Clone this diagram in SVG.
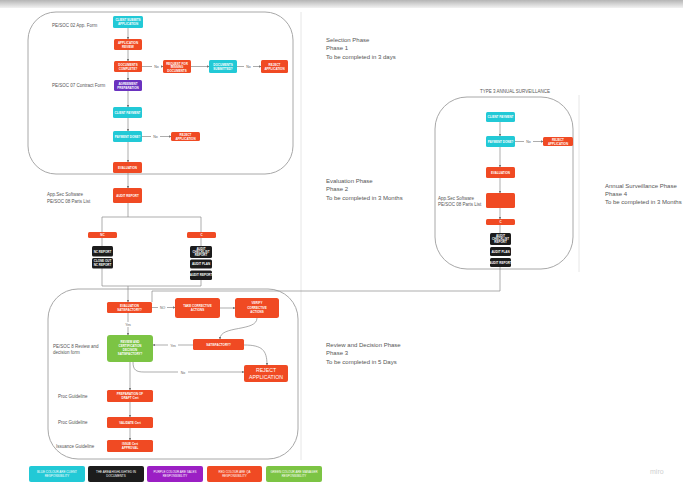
<svg xmlns="http://www.w3.org/2000/svg" width="683" height="483" viewBox="0 0 683 483">
<defs>
<linearGradient id="topbar" x1="0" y1="0" x2="0" y2="1">
<stop offset="0" stop-color="#b5b5b5"/><stop offset="1" stop-color="#f2f2f2"/>
</linearGradient>
<marker id="ah" viewBox="0 0 6 6" refX="5" refY="3" markerWidth="4" markerHeight="4" orient="auto"><path d="M0,0 L6,3 L0,6 z" fill="#777"/></marker>
<style>
.frame{fill:none;stroke:#a8a8a8;stroke-width:1}
.guide{stroke:#e6e6e6;stroke-width:1}
.c{fill:none;stroke:#8a8a8a;stroke-width:0.7;marker-end:url(#ah)}
.cn{fill:none;stroke:#8a8a8a;stroke-width:0.7}
.cy{fill:#22c9d6}
.rd{fill:#f04a23}
.pu{fill:#6a32bf}
.bk{fill:#1c1c1c}
.gr{fill:#7cc444}
.nt{font-family:"Liberation Sans",Arial,sans-serif;font-size:3px;font-weight:bold;fill:#fff;text-anchor:middle}
.lt{font-family:"Liberation Sans",Arial,sans-serif;font-size:4.5px;fill:#555}
.ph{font-family:"Liberation Sans",Arial,sans-serif;font-size:6px;fill:#555}
.el{font-family:"Liberation Sans",Arial,sans-serif;font-size:3.5px;fill:#666;text-anchor:middle}
.lg{font-family:"Liberation Sans",Arial,sans-serif;font-size:3px;fill:#fff;text-anchor:middle}
</style>
</defs>
<rect width="683" height="483" fill="#ffffff"/>
<rect x="0" y="0" width="683" height="8" fill="url(#topbar)"/>
<line class="guide" x1="301" y1="12" x2="301" y2="460"/>
<line class="guide" x1="579" y1="95" x2="579" y2="272"/>

<!-- phase frames -->
<g id="frame-phase1"><rect class="frame" x="28" y="12" width="265" height="162" rx="28"/></g>
<g id="frame-phase3"><rect class="frame" x="48" y="289" width="250" height="170" rx="30"/></g>
<g id="frame-type3"><rect class="frame" x="435" y="97" width="138" height="172" rx="32"/></g>

<!-- connectors -->
<g id="connectors">
<path class="c" d="M128,28 V39"/>
<path class="c" d="M128,50 V61"/>
<path class="c" d="M141,66.5 H163"/>
<path class="c" d="M191,66.5 H209"/>
<path class="c" d="M237,66.5 H261"/>
<path class="c" d="M128,72 V80"/>
<path class="c" d="M128,91 V107"/>
<path class="c" d="M128,118 V131"/>
<path class="c" d="M142,136.5 H171"/>
<path class="c" d="M128,142 V162"/>
<path class="c" d="M128,173 V188"/>
<path class="cn" d="M128,203 V217 M102,232 V217 H201 V232"/>
<path class="cn" d="M102,238 V246 M201,238 V246"/>
<path class="cn" d="M102,268 V286 H201 V280"/>
<path class="c" d="M128,286 V302"/>
<!-- type 3 -->
<path class="c" d="M500,122 V136"/>
<path class="c" d="M515,141.5 H543"/>
<path class="c" d="M500,147 V167"/>
<path class="c" d="M500,178 V193"/>
<path class="c" d="M500,208 V219"/>
<path class="cn" d="M500,225 V233"/>
<path class="cn" d="M500,267 V291 H152 V302"/>
<!-- phase 3 -->
<path class="c" d="M152,307.5 H175"/>
<path class="c" d="M220,308 H235"/>
<path class="c" d="M257,318 C257,332 220,325 220,339"/>
<path class="c" d="M193,345 H153"/>
<path class="c" d="M244,345 C262,345 267,350 267,365"/>
<path class="c" d="M133,362 C133,370 136,372 144,372 H244"/>
<path class="c" d="M128,313 V335"/>
<path class="c" d="M130,362 V390"/>
<path class="c" d="M130,402 V417"/>
<path class="c" d="M130,428 V440"/>
<!-- edge labels -->
<g>
<rect x="152" y="64" width="9" height="5" fill="#fff"/><text class="el" x="156.5" y="68">No</text>
<rect x="244" y="64" width="9" height="5" fill="#fff"/><text class="el" x="248.5" y="68">No</text>
<rect x="151" y="134" width="9" height="5" fill="#fff"/><text class="el" x="155.5" y="138">No</text>
<rect x="524" y="139" width="9" height="5" fill="#fff"/><text class="el" x="528.5" y="143">No</text>
<rect x="158" y="305" width="9" height="5" fill="#fff"/><text class="el" x="162.5" y="309">NO</text>
<rect x="124" y="322" width="8" height="5" fill="#fff"/><text class="el" x="128" y="326">Yes</text>
<rect x="168" y="343" width="10" height="5" fill="#fff"/><text class="el" x="173" y="347">Yes</text>
<rect x="178" y="370" width="10" height="5" fill="#fff"/><text class="el" x="183" y="374">No</text>
</g>
</g>

<!-- labels -->
<text class="lt" x="52" y="27">PE/SOC 02 App. Form</text>
<text class="lt" x="52" y="87">PE/SOC 07 Contract Form</text>
<text class="lt" x="47" y="196">App.Sec Software</text>
<text class="lt" x="47" y="203">PE/SOC 08 Parts List</text>
<text class="lt" x="438" y="200">App.Sec Software</text>
<text class="lt" x="438" y="206">PE/SOC 08 Parts List</text>
<text class="lt" x="53" y="348">PE/SOC 8 Review and</text>
<text class="lt" x="53" y="354">decision form</text>
<text class="lt" x="58" y="398">Proc Guideline</text>
<text class="lt" x="58" y="424">Proc Guideline</text>
<text class="lt" x="56" y="448">Issuance Guideline</text>
<text class="lt" x="515" y="93" text-anchor="middle">TYPE 3 ANNUAL SURVEILLANCE</text>

<text class="ph" x="326" y="42">Selection Phase</text>
<text class="ph" x="326" y="50">Phase 1</text>
<text class="ph" x="326" y="59">To be completed in 3 days</text>
<text class="ph" x="326" y="183">Evaluation Phase</text>
<text class="ph" x="326" y="191">Phase 2</text>
<text class="ph" x="326" y="200">To be completed in 3 Months</text>
<text class="ph" x="326" y="347">Review and Decision Phase</text>
<text class="ph" x="326" y="355">Phase 3</text>
<text class="ph" x="326" y="364">To be completed in 5 Days</text>
<text class="ph" x="605" y="188">Annual Surveillance Phase</text>
<text class="ph" x="605" y="196">Phase 4</text>
<text class="ph" x="605" y="204">To be completed in 3 Months</text>

<!-- phase 1 nodes -->
<g id="n-client-apply"><rect class="cy" x="113" y="16" width="30" height="12" rx="1.5"/><text class="nt" x="128" y="21">CLIENT SUBMITS</text><text class="nt" x="128" y="25">APPLICATION</text></g>
<g id="n-app-review"><rect class="rd" x="114" y="39" width="28" height="11" rx="1.5"/><text class="nt" x="128" y="44">APPLICATION</text><text class="nt" x="128" y="47.5">REVIEW</text></g>
<g id="n-doc-complete"><rect class="rd" x="114" y="61" width="28" height="11" rx="1.5"/><text class="nt" x="128" y="66">DOCUMENTS</text><text class="nt" x="128" y="69.5">COMPLETE?</text></g>
<g id="n-request-docs"><rect class="rd" x="163" y="60" width="28" height="13" rx="1.5"/><text class="nt" x="177" y="64.5">REQUEST FOR</text><text class="nt" x="177" y="68">MISSING</text><text class="nt" x="177" y="71.5">DOCUMENTS</text></g>
<g id="n-doc-submit"><rect class="cy" x="209" y="60" width="28" height="13" rx="1.5"/><text class="nt" x="223" y="66">DOCUMENTS</text><text class="nt" x="223" y="69.5">SUBMITTED?</text></g>
<g id="n-reject-1"><rect class="rd" x="261" y="60" width="27" height="13" rx="1.5"/><text class="nt" x="274.5" y="66">REJECT</text><text class="nt" x="274.5" y="69.5">APPLICATION</text></g>
<g id="n-agreement"><rect class="pu" x="114" y="80" width="28" height="11" rx="1.5"/><text class="nt" x="128" y="85">AGREEMENT</text><text class="nt" x="128" y="88.5">PREPARATION</text></g>
<g id="n-payment"><rect class="cy" x="113" y="107" width="29" height="11" rx="1.5"/><text class="nt" x="127.5" y="113.5">CLIENT PAYMENT</text></g>
<g id="n-payment-done"><rect class="cy" x="113" y="131" width="29" height="11" rx="1.5"/><text class="nt" x="127.5" y="137.5">PAYMENT DONE?</text></g>
<g id="n-reject-2"><rect class="rd" x="171" y="132" width="29" height="9" rx="1.5"/><text class="nt" x="185.5" y="136">REJECT</text><text class="nt" x="185.5" y="139.5">APPLICATION</text></g>
<g id="n-evaluation"><rect class="rd" x="113" y="162" width="29" height="11" rx="1.5"/><text class="nt" x="127.5" y="168.5">EVALUATION</text></g>
<g id="n-audit-report"><rect class="rd" x="113" y="188" width="29" height="15" rx="1.5"/><text class="nt" x="127.5" y="196.5">AUDIT REPORT</text></g>
<g id="n-branch-nc"><rect class="rd" x="88" y="232" width="29" height="6" rx="1.5"/><text class="nt" x="102.5" y="236">NC</text></g>
<g id="n-branch-c"><rect class="rd" x="187" y="232" width="29" height="6" rx="1.5"/><text class="nt" x="201.5" y="236">C</text></g>
<g id="n-doc-l1"><rect class="bk" x="92" y="246" width="21" height="10.5" rx="1.5"/><text class="nt" x="102.5" y="252.5">NC REPORT</text></g>
<g id="n-doc-l2"><rect class="bk" x="92" y="258" width="21" height="10.5" rx="1.5"/><text class="nt" x="102.5" y="262">CLOSE OUT</text><text class="nt" x="102.5" y="265.5">NC REPORT</text></g>
<g id="n-doc-r1"><rect class="bk" x="190" y="246" width="22" height="12" rx="1.5"/><text class="nt" x="201" y="250">AUDIT</text><text class="nt" x="201" y="253">CHECKLIST</text><text class="nt" x="201" y="256">REPORT</text></g>
<g id="n-doc-r2"><rect class="bk" x="190" y="259.5" width="22" height="9" rx="1.5"/><text class="nt" x="201" y="265">AUDIT PLAN</text></g>
<g id="n-doc-r3"><rect class="bk" x="190" y="270.5" width="22" height="9.5" rx="1.5"/><text class="nt" x="201" y="276">AUDIT REPORT</text></g>

<!-- type 3 nodes -->
<g id="t-payment"><rect class="cy" x="486" y="112" width="29" height="10" rx="1.5"/><text class="nt" x="500.5" y="118">CLIENT PAYMENT</text></g>
<g id="t-payment-done"><rect class="cy" x="486" y="136" width="29" height="11" rx="1.5"/><text class="nt" x="500.5" y="142.5">PAYMENT DONE?</text></g>
<g id="t-reject"><rect class="rd" x="543" y="137" width="30" height="9" rx="1.5"/><text class="nt" x="558" y="141">REJECT</text><text class="nt" x="558" y="144.5">APPLICATION</text></g>
<g id="t-evaluation"><rect class="rd" x="486" y="167" width="29" height="11" rx="1.5"/><text class="nt" x="500.5" y="173.5">EVALUATION</text></g>
<g id="t-audit"><rect class="rd" x="486" y="193" width="29" height="15" rx="1.5"/></g>
<g id="t-branch"><rect class="rd" x="486" y="219" width="29" height="6" rx="1.5"/><text class="nt" x="500.5" y="223">C</text></g>
<g id="t-doc1"><rect class="bk" x="490" y="233" width="21" height="12" rx="1.5"/><text class="nt" x="500.5" y="237">AUDIT</text><text class="nt" x="500.5" y="240">CHECKLIST</text><text class="nt" x="500.5" y="243">REPORT</text></g>
<g id="t-doc2"><rect class="bk" x="490" y="247" width="21" height="9" rx="1.5"/><text class="nt" x="500.5" y="252.5">AUDIT PLAN</text></g>
<g id="t-doc3"><rect class="bk" x="490" y="258" width="21" height="9" rx="1.5"/><text class="nt" x="500.5" y="263.5">AUDIT REPORT</text></g>

<!-- phase 3 nodes -->
<g id="r-eval-sat"><rect class="rd" x="107" y="302" width="45" height="11" rx="1.5"/><text class="nt" x="129.5" y="306.5">EVALUATION</text><text class="nt" x="129.5" y="310.5">SATISFACTORY?</text></g>
<g id="r-take-ca"><rect class="rd" x="175" y="298" width="45" height="20" rx="2.5"/><text class="nt" x="197.5" y="307">TAKE CORRECTIVE</text><text class="nt" x="197.5" y="311">ACTIONS</text></g>
<g id="r-verify-ca"><rect class="rd" x="235" y="298" width="44" height="20" rx="2.5"/><text class="nt" x="257" y="304">VERIFY</text><text class="nt" x="257" y="308.5">CORRECTIVE</text><text class="nt" x="257" y="313">ACTIONS</text></g>
<g id="r-satisfactory"><rect class="rd" x="193" y="339" width="51" height="11" rx="1.5"/><text class="nt" x="218.5" y="345.5">SATISFACTORY?</text></g>
<g id="r-decision"><rect class="gr" x="107" y="335" width="46" height="27" rx="3"/><text class="nt" x="130" y="343">REVIEW AND</text><text class="nt" x="130" y="347">CERTIFICATION</text><text class="nt" x="130" y="351">DECISION</text><text class="nt" x="130" y="355">SATISFACTORY?</text></g>
<g id="r-reject"><rect class="rd" x="244" y="365" width="44" height="17" rx="2"/><text class="nt" x="266" y="372" style="font-size:5.2px;font-weight:normal">REJECT</text><text class="nt" x="266" y="379" style="font-size:5.2px;font-weight:normal">APPLICATION</text></g>
<g id="r-draft"><rect class="rd" x="107" y="390" width="46" height="12" rx="1.5"/><text class="nt" x="130" y="395">PREPARATION OF</text><text class="nt" x="130" y="399">DRAFT Cert</text></g>
<g id="r-validate"><rect class="rd" x="107" y="417" width="46" height="11" rx="1.5"/><text class="nt" x="130" y="423.5">VALIDATE Cert</text></g>
<g id="r-issue"><rect class="rd" x="107" y="440" width="46" height="12" rx="1.5"/><text class="nt" x="130" y="445">ISSUE Cert</text><text class="nt" x="130" y="449">APPROVAL</text></g>

<!-- legend -->
<g id="legend">
<rect class="cy" x="29" y="466" width="56" height="16" rx="2"/><text class="lg" x="57" y="473">BLUE COLOUR ARE CLIENT</text><text class="lg" x="57" y="477">RESPONSIBILITY</text>
<rect class="bk" x="88" y="466" width="56" height="16" rx="2"/><text class="lg" x="116" y="473">THE AREA HIGHLIGHTED IN</text><text class="lg" x="116" y="477">DOCUMENTS</text>
<rect x="147" y="466" width="56" height="16" rx="2" fill="#9b1fc4"/><text class="lg" x="175" y="473">PURPLE COLOUR ARE SALES</text><text class="lg" x="175" y="477">RESPONSIBILITY</text>
<rect class="rd" x="207" y="466" width="55" height="16" rx="2"/><text class="lg" x="234.5" y="473">RED COLOUR ARE QA</text><text class="lg" x="234.5" y="477">RESPONSIBILITY</text>
<rect class="gr" x="266" y="466" width="56" height="16" rx="2"/><text class="lg" x="294" y="473">GREEN COLOUR ARE MANAGER</text><text class="lg" x="294" y="477">RESPONSIBILITY</text>
</g>
<text x="650" y="474" style="font-family:'Liberation Sans',Arial,sans-serif;font-size:7px;fill:#cfcfcf">miro</text>
</svg>
